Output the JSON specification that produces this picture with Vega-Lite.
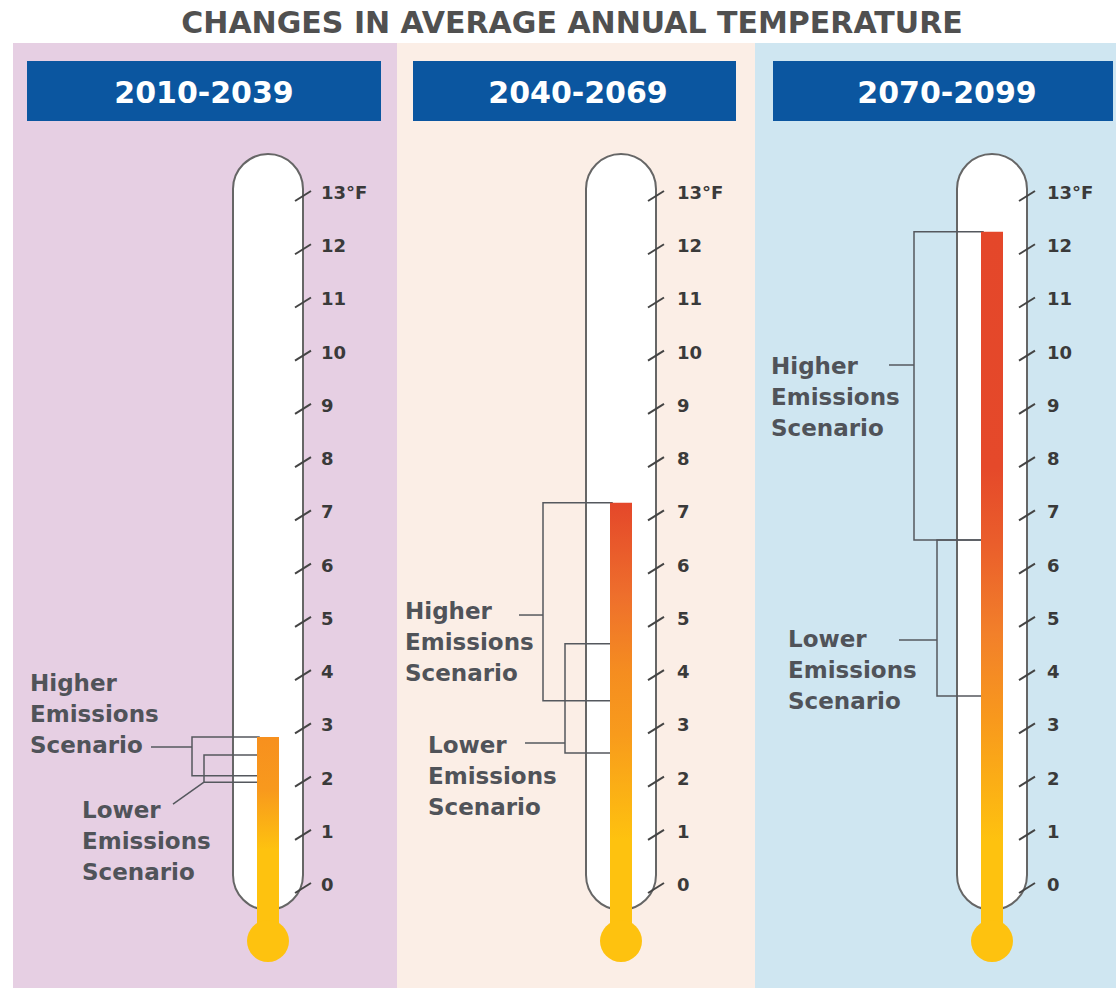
{
  "$schema": "https://vega.github.io/schema/vega-lite/v6.json",
  "width": 1116,
  "height": 988,
  "autosize": {"type": "fit", "contains": "padding"},
  "padding": 0,
  "background": "#ffffff",
  "config": {"view": {"stroke": null}, "axis": {"disable": true}},
  "datasets": {
    "heading": [{"text": "CHANGES IN AVERAGE ANNUAL TEMPERATURE"}],
    "periods": [
      {"period": "2010-2039", "rise": 2.8},
      {"period": "2040-2069", "rise": 7.2},
      {"period": "2070-2099", "rise": 12.29}
    ],
    "ranges": [
      {"period": "2010-2039", "scenario": "Higher", "low": 2.07, "high": 2.8, "label": "Higher Emissions Scenario"},
      {"period": "2010-2039", "scenario": "Lower", "low": 1.95, "high": 2.46, "label": "Lower Emissions Scenario"},
      {"period": "2040-2069", "scenario": "Higher", "low": 3.48, "high": 7.2, "label": "Higher Emissions Scenario"},
      {"period": "2040-2069", "scenario": "Lower", "low": 2.5, "high": 4.55, "label": "Lower Emissions Scenario"},
      {"period": "2070-2099", "scenario": "Higher", "low": 6.5, "high": 12.29, "label": "Higher Emissions Scenario"},
      {"period": "2070-2099", "scenario": "Lower", "low": 3.57, "high": 6.5, "label": "Lower Emissions Scenario"}
    ],
    "ticks": [
      {"value": 0, "label": "0"}, {"value": 1, "label": "1"}, {"value": 2, "label": "2"},
      {"value": 3, "label": "3"}, {"value": 4, "label": "4"}, {"value": 5, "label": "5"},
      {"value": 6, "label": "6"}, {"value": 7, "label": "7"}, {"value": 8, "label": "8"},
      {"value": 9, "label": "9"}, {"value": 10, "label": "10"}, {"value": 11, "label": "11"},
      {"value": 12, "label": "12"}, {"value": 13, "label": "13°F"}
    ]
  },
  "layer": [
    {
      "data": {"name": "heading"},
      "mark": {"type": "text", "font": "DejaVu Sans", "fontWeight": "bold", "fontSize": 30, "color": "#505050", "align": "center", "baseline": "middle"},
      "encoding": {
        "text": {"field": "text"},
        "x": {"datum": 572, "type": "quantitative", "scale": {"domain": [0, 1116], "nice": false, "zero": false}, "axis": null},
        "y": {"datum": 16.203, "type": "quantitative", "scale": {"domain": [-1.916, 16.645], "nice": false, "zero": false}, "axis": null}
      }
    },
    {
      "layer": [
        {"data": {"name": "periods"}, "transform": [{"filter": "datum.period === '2010-2039'"}],
         "mark": {"type": "rect", "color": "#e6cfe3"},
         "encoding": {"x": {"datum": 13}, "x2": {"datum": 397}, "y": {"datum": 15.837}, "y2": {"datum": -1.916}}},
        {"data": {"name": "periods"}, "transform": [{"filter": "datum.period === '2010-2039'"}],
         "mark": {"type": "rect", "color": "#0b56a0"},
         "encoding": {"x": {"datum": 27}, "x2": {"datum": 381}, "y": {"datum": 15.499}, "y2": {"datum": 14.371}}},
        {"data": {"name": "periods"}, "transform": [{"filter": "datum.period === '2010-2039'"}],
         "mark": {"type": "text", "font": "DejaVu Sans", "fontWeight": "bold", "fontSize": 30, "color": "#ffffff", "align": "center", "baseline": "middle"},
         "encoding": {"text": {"field": "period"}, "x": {"datum": 204}, "y": {"datum": 14.879}}},
        {"data": {"name": "periods"}, "transform": [{"filter": "datum.period === '2010-2039'"}],
         "mark": {"type": "rect", "fill": "#ffffff", "stroke": "#666666", "strokeWidth": 2, "cornerRadius": 35},
         "encoding": {"x": {"datum": 233}, "x2": {"datum": 303}, "y": {"datum": 13.751}, "y2": {"datum": -0.451}}},
        {"data": {"name": "ranges"}, "transform": [{"filter": "datum.period === '2010-2039' && datum.scenario === 'Higher'"}],
         "mark": {"type": "rect", "filled": false, "color": "#55585e", "strokeWidth": 1.5},
         "encoding": {"x": {"datum": 192}, "x2": {"datum": 259}, "y": {"field": "high", "type": "quantitative"}, "y2": {"field": "low"}}},
        {"data": {"name": "ranges"}, "transform": [{"filter": "datum.period === '2010-2039' && datum.scenario === 'Lower'"}],
         "mark": {"type": "rect", "filled": false, "color": "#55585e", "strokeWidth": 1.5},
         "encoding": {"x": {"datum": 204}, "x2": {"datum": 259}, "y": {"field": "high", "type": "quantitative"}, "y2": {"field": "low"}}},
        {"data": {"name": "ranges"}, "transform": [{"filter": "datum.period === '2010-2039' && datum.scenario === 'Higher'"}],
         "mark": {"type": "rule", "color": "#55585e", "strokeWidth": 1.5},
         "encoding": {"x": {"datum": 151}, "x2": {"datum": 192}, "y": {"datum": 2.611}, "y2": {"datum": 2.611}}},
        {"data": {"name": "ranges"}, "transform": [{"filter": "datum.period === '2010-2039' && datum.scenario === 'Lower'"}],
         "mark": {"type": "rule", "color": "#55585e", "strokeWidth": 1.5},
         "encoding": {"x": {"datum": 204}, "x2": {"datum": 173}, "y": {"datum": 1.95}, "y2": {"datum": 1.54}}},
        {"data": {"name": "ranges"}, "transform": [{"filter": "datum.period === '2010-2039' && datum.scenario === 'Higher'"}],
         "mark": {"type": "text", "font": "DejaVu Sans", "fontWeight": "bold", "fontSize": 23, "color": "#505359", "align": "left", "baseline": "top", "lineBreak": " ", "lineHeight": 31},
         "encoding": {"text": {"field": "label"}, "x": {"datum": 30}, "y": {"datum": 4.01}}},
        {"data": {"name": "ranges"}, "transform": [{"filter": "datum.period === '2010-2039' && datum.scenario === 'Lower'"}],
         "mark": {"type": "text", "font": "DejaVu Sans", "fontWeight": "bold", "fontSize": 23, "color": "#505359", "align": "left", "baseline": "top", "lineBreak": " ", "lineHeight": 31},
         "encoding": {"text": {"field": "label"}, "x": {"datum": 82}, "y": {"datum": 1.625}}},
        {"data": {"name": "periods"}, "transform": [{"filter": "datum.period === '2010-2039'"}],
         "mark": {"type": "rect", "color": {"gradient": "linear", "x1": 0, "y1": 1, "x2": 0, "y2": 0,
           "stops": [{"offset": 0, "color": "#fec20f"}, {"offset": 0.4, "color": "#fec20f"}, {"offset": 0.72, "color": "#f8991d"}, {"offset": 1, "color": "#f7901e"}]}},
         "encoding": {"x": {"datum": 257}, "x2": {"datum": 279}, "y": {"field": "rise", "type": "quantitative"}, "y2": {"datum": -0.733}}},
        {"data": {"name": "periods"}, "transform": [{"filter": "datum.period === '2010-2039'"}],
         "mark": {"type": "circle", "size": 1764, "color": "#fec20f", "opacity": 1},
         "encoding": {"x": {"datum": 268}, "y": {"datum": -1.033}}},
        {"data": {"name": "ticks"},
         "mark": {"type": "rule", "color": "#444444", "strokeWidth": 2, "yOffset": 7, "y2Offset": -3},
         "encoding": {"x": {"datum": 295}, "x2": {"datum": 311}, "y": {"field": "value", "type": "quantitative"}, "y2": {"field": "value"}}},
        {"data": {"name": "ticks"},
         "mark": {"type": "text", "font": "DejaVu Sans", "fontWeight": "bold", "fontSize": 18, "color": "#3a3a3a", "align": "left", "baseline": "middle"},
         "encoding": {"text": {"field": "label"}, "x": {"datum": 321}, "y": {"field": "value", "type": "quantitative"}}}
      ]
    },
    {
      "layer": [
        {"data": {"name": "periods"}, "transform": [{"filter": "datum.period === '2040-2069'"}],
         "mark": {"type": "rect", "color": "#fbeee6"},
         "encoding": {"x": {"datum": 397}, "x2": {"datum": 755}, "y": {"datum": 15.837}, "y2": {"datum": -1.916}}},
        {"data": {"name": "periods"}, "transform": [{"filter": "datum.period === '2040-2069'"}],
         "mark": {"type": "rect", "color": "#0b56a0"},
         "encoding": {"x": {"datum": 413}, "x2": {"datum": 736}, "y": {"datum": 15.499}, "y2": {"datum": 14.371}}},
        {"data": {"name": "periods"}, "transform": [{"filter": "datum.period === '2040-2069'"}],
         "mark": {"type": "text", "font": "DejaVu Sans", "fontWeight": "bold", "fontSize": 30, "color": "#ffffff", "align": "center", "baseline": "middle"},
         "encoding": {"text": {"field": "period"}, "x": {"datum": 578}, "y": {"datum": 14.879}}},
        {"data": {"name": "periods"}, "transform": [{"filter": "datum.period === '2040-2069'"}],
         "mark": {"type": "rect", "fill": "#ffffff", "stroke": "#666666", "strokeWidth": 2, "cornerRadius": 35},
         "encoding": {"x": {"datum": 586}, "x2": {"datum": 656}, "y": {"datum": 13.751}, "y2": {"datum": -0.451}}},
        {"data": {"name": "ranges"}, "transform": [{"filter": "datum.period === '2040-2069' && datum.scenario === 'Higher'"}],
         "mark": {"type": "rect", "filled": false, "color": "#55585e", "strokeWidth": 1.5},
         "encoding": {"x": {"datum": 543}, "x2": {"datum": 612}, "y": {"field": "high", "type": "quantitative"}, "y2": {"field": "low"}}},
        {"data": {"name": "ranges"}, "transform": [{"filter": "datum.period === '2040-2069' && datum.scenario === 'Lower'"}],
         "mark": {"type": "rect", "filled": false, "color": "#55585e", "strokeWidth": 1.5},
         "encoding": {"x": {"datum": 565}, "x2": {"datum": 612}, "y": {"field": "high", "type": "quantitative"}, "y2": {"field": "low"}}},
        {"data": {"name": "ranges"}, "transform": [{"filter": "datum.period === '2040-2069' && datum.scenario === 'Higher'"}],
         "mark": {"type": "rule", "color": "#55585e", "strokeWidth": 1.5},
         "encoding": {"x": {"datum": 519}, "x2": {"datum": 543}, "y": {"datum": 5.091}, "y2": {"datum": 5.091}}},
        {"data": {"name": "ranges"}, "transform": [{"filter": "datum.period === '2040-2069' && datum.scenario === 'Lower'"}],
         "mark": {"type": "rule", "color": "#55585e", "strokeWidth": 1.5},
         "encoding": {"x": {"datum": 525}, "x2": {"datum": 565}, "y": {"datum": 2.686}, "y2": {"datum": 2.686}}},
        {"data": {"name": "ranges"}, "transform": [{"filter": "datum.period === '2040-2069' && datum.scenario === 'Higher'"}],
         "mark": {"type": "text", "font": "DejaVu Sans", "fontWeight": "bold", "fontSize": 23, "color": "#505359", "align": "left", "baseline": "top", "lineBreak": " ", "lineHeight": 31},
         "encoding": {"text": {"field": "label"}, "x": {"datum": 405}, "y": {"datum": 5.363}}},
        {"data": {"name": "ranges"}, "transform": [{"filter": "datum.period === '2040-2069' && datum.scenario === 'Lower'"}],
         "mark": {"type": "text", "font": "DejaVu Sans", "fontWeight": "bold", "fontSize": 23, "color": "#505359", "align": "left", "baseline": "top", "lineBreak": " ", "lineHeight": 31},
         "encoding": {"text": {"field": "label"}, "x": {"datum": 428}, "y": {"datum": 2.846}}},
        {"data": {"name": "periods"}, "transform": [{"filter": "datum.period === '2040-2069'"}],
         "mark": {"type": "rect", "color": {"gradient": "linear", "x1": 0, "y1": 1, "x2": 0, "y2": 0,
           "stops": [{"offset": 0, "color": "#fec20f"}, {"offset": 0.2, "color": "#fec20f"}, {"offset": 0.45, "color": "#f89b1c"}, {"offset": 0.6, "color": "#f58d20"}, {"offset": 0.78, "color": "#ee6f2c"}, {"offset": 1, "color": "#e4472a"}]}},
         "encoding": {"x": {"datum": 610}, "x2": {"datum": 632}, "y": {"field": "rise", "type": "quantitative"}, "y2": {"datum": -0.733}}},
        {"data": {"name": "periods"}, "transform": [{"filter": "datum.period === '2040-2069'"}],
         "mark": {"type": "circle", "size": 1764, "color": "#fec20f", "opacity": 1},
         "encoding": {"x": {"datum": 621}, "y": {"datum": -1.033}}},
        {"data": {"name": "ticks"},
         "mark": {"type": "rule", "color": "#444444", "strokeWidth": 2, "yOffset": 7, "y2Offset": -3},
         "encoding": {"x": {"datum": 648}, "x2": {"datum": 664}, "y": {"field": "value", "type": "quantitative"}, "y2": {"field": "value"}}},
        {"data": {"name": "ticks"},
         "mark": {"type": "text", "font": "DejaVu Sans", "fontWeight": "bold", "fontSize": 18, "color": "#3a3a3a", "align": "left", "baseline": "middle"},
         "encoding": {"text": {"field": "label"}, "x": {"datum": 677}, "y": {"field": "value", "type": "quantitative"}}}
      ]
    },
    {
      "layer": [
        {"data": {"name": "periods"}, "transform": [{"filter": "datum.period === '2070-2099'"}],
         "mark": {"type": "rect", "color": "#cfe6f1"},
         "encoding": {"x": {"datum": 755}, "x2": {"datum": 1116}, "y": {"datum": 15.837}, "y2": {"datum": -1.916}}},
        {"data": {"name": "periods"}, "transform": [{"filter": "datum.period === '2070-2099'"}],
         "mark": {"type": "rect", "color": "#0b56a0"},
         "encoding": {"x": {"datum": 773}, "x2": {"datum": 1113}, "y": {"datum": 15.499}, "y2": {"datum": 14.371}}},
        {"data": {"name": "periods"}, "transform": [{"filter": "datum.period === '2070-2099'"}],
         "mark": {"type": "text", "font": "DejaVu Sans", "fontWeight": "bold", "fontSize": 30, "color": "#ffffff", "align": "center", "baseline": "middle"},
         "encoding": {"text": {"field": "period"}, "x": {"datum": 947}, "y": {"datum": 14.879}}},
        {"data": {"name": "periods"}, "transform": [{"filter": "datum.period === '2070-2099'"}],
         "mark": {"type": "rect", "fill": "#ffffff", "stroke": "#666666", "strokeWidth": 2, "cornerRadius": 35},
         "encoding": {"x": {"datum": 957}, "x2": {"datum": 1027}, "y": {"datum": 13.751}, "y2": {"datum": -0.451}}},
        {"data": {"name": "ranges"}, "transform": [{"filter": "datum.period === '2070-2099' && datum.scenario === 'Higher'"}],
         "mark": {"type": "rect", "filled": false, "color": "#55585e", "strokeWidth": 1.5},
         "encoding": {"x": {"datum": 914}, "x2": {"datum": 983}, "y": {"field": "high", "type": "quantitative"}, "y2": {"field": "low"}}},
        {"data": {"name": "ranges"}, "transform": [{"filter": "datum.period === '2070-2099' && datum.scenario === 'Lower'"}],
         "mark": {"type": "rect", "filled": false, "color": "#55585e", "strokeWidth": 1.5},
         "encoding": {"x": {"datum": 937}, "x2": {"datum": 983}, "y": {"field": "high", "type": "quantitative"}, "y2": {"field": "low"}}},
        {"data": {"name": "ranges"}, "transform": [{"filter": "datum.period === '2070-2099' && datum.scenario === 'Higher'"}],
         "mark": {"type": "rule", "color": "#55585e", "strokeWidth": 1.5},
         "encoding": {"x": {"datum": 889}, "x2": {"datum": 914}, "y": {"datum": 9.788}, "y2": {"datum": 9.788}}},
        {"data": {"name": "ranges"}, "transform": [{"filter": "datum.period === '2070-2099' && datum.scenario === 'Lower'"}],
         "mark": {"type": "rule", "color": "#55585e", "strokeWidth": 1.5},
         "encoding": {"x": {"datum": 899}, "x2": {"datum": 937}, "y": {"datum": 4.621}, "y2": {"datum": 4.621}}},
        {"data": {"name": "ranges"}, "transform": [{"filter": "datum.period === '2070-2099' && datum.scenario === 'Higher'"}],
         "mark": {"type": "text", "font": "DejaVu Sans", "fontWeight": "bold", "fontSize": 23, "color": "#505359", "align": "left", "baseline": "top", "lineBreak": " ", "lineHeight": 31},
         "encoding": {"text": {"field": "label"}, "x": {"datum": 771}, "y": {"datum": 9.966}}},
        {"data": {"name": "ranges"}, "transform": [{"filter": "datum.period === '2070-2099' && datum.scenario === 'Lower'"}],
         "mark": {"type": "text", "font": "DejaVu Sans", "fontWeight": "bold", "fontSize": 23, "color": "#505359", "align": "left", "baseline": "top", "lineBreak": " ", "lineHeight": 31},
         "encoding": {"text": {"field": "label"}, "x": {"datum": 788}, "y": {"datum": 4.837}}},
        {"data": {"name": "periods"}, "transform": [{"filter": "datum.period === '2070-2099'"}],
         "mark": {"type": "rect", "color": {"gradient": "linear", "x1": 0, "y1": 1, "x2": 0, "y2": 0,
           "stops": [{"offset": 0, "color": "#fec20f"}, {"offset": 0.12, "color": "#fec20f"}, {"offset": 0.3, "color": "#f8981d"}, {"offset": 0.42, "color": "#f2802a"}, {"offset": 0.55, "color": "#ea5e2b"}, {"offset": 0.66, "color": "#e5492a"}, {"offset": 1, "color": "#e4472a"}]}},
         "encoding": {"x": {"datum": 981}, "x2": {"datum": 1003}, "y": {"field": "rise", "type": "quantitative"}, "y2": {"datum": -0.733}}},
        {"data": {"name": "periods"}, "transform": [{"filter": "datum.period === '2070-2099'"}],
         "mark": {"type": "circle", "size": 1764, "color": "#fec20f", "opacity": 1},
         "encoding": {"x": {"datum": 992}, "y": {"datum": -1.033}}},
        {"data": {"name": "ticks"},
         "mark": {"type": "rule", "color": "#444444", "strokeWidth": 2, "yOffset": 7, "y2Offset": -3},
         "encoding": {"x": {"datum": 1019}, "x2": {"datum": 1035}, "y": {"field": "value", "type": "quantitative"}, "y2": {"field": "value"}}},
        {"data": {"name": "ticks"},
         "mark": {"type": "text", "font": "DejaVu Sans", "fontWeight": "bold", "fontSize": 18, "color": "#3a3a3a", "align": "left", "baseline": "middle"},
         "encoding": {"text": {"field": "label"}, "x": {"datum": 1047}, "y": {"field": "value", "type": "quantitative"}}}
      ]
    }
  ]
}
